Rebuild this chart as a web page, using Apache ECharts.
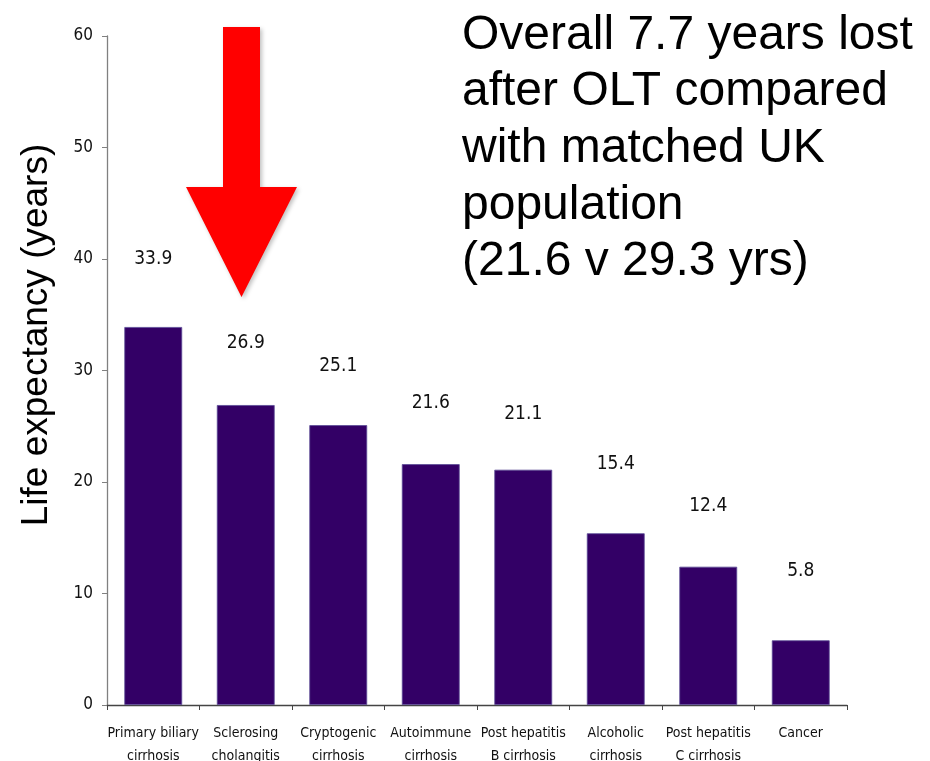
<!DOCTYPE html>
<html>
<head>
<meta charset="utf-8">
<style>
  html, body { margin: 0; padding: 0; background: #ffffff; }
  #chart { width: 930px; height: 761px; }
</style>
<script src="https://cdn.jsdelivr.net/npm/echarts@6/dist/echarts.min.js"></script>
</head>
<body>
<div id="chart"></div>
<script>
// Life expectancy after liver transplantation, by underlying disease
const categories = [
  'Primary biliary\ncirrhosis',
  'Sclerosing\ncholangitis',
  'Cryptogenic\ncirrhosis',
  'Autoimmune\ncirrhosis',
  'Post hepatitis\nB cirrhosis',
  'Alcoholic\ncirrhosis',
  'Post hepatitis\nC cirrhosis',
  'Cancer'
];
const lifeExpectancy = [33.9, 26.9, 25.1, 21.6, 21.1, 15.4, 12.4, 5.8];
const yTicks = { min: 0, max: 60, interval: 10 };

const yTitle = 'Life expectancy (years)';
const noteLines = [
  'Overall 7.7 years lost',
  'after OLT compared',
  'with matched UK',
  'population',
  '(21.6 v 29.3 yrs)'
];

// gap (px) between each bar top and its value label
const labelGap = [58, 53, 50, 52, 46, 60, 51, 60];

const narrow = '"Liberation Sans Narrow", "DejaVu Sans Condensed", "Liberation Sans", Arial, sans-serif';
const sans = '"Liberation Sans", Arial, Helvetica, sans-serif';

const chart = echarts.init(document.getElementById('chart'), null, { renderer: 'canvas' });

chart.setOption({
  animation: false,
  backgroundColor: '#ffffff',
  grid: {
    left: 107, right: 83, top: 36, bottom: 56,
    containLabel: false,
    outerBoundsMode: 'none'
  },
  xAxis: {
    type: 'category',
    data: categories,
    boundaryGap: true,
    axisLine: { show: true, lineStyle: { color: '#444444', width: 1.3 } },
    axisTick: { show: true, length: 5, alignWithLabel: false, lineStyle: { color: '#444444' } },
    axisLabel: {
      interval: 0,
      margin: 17,
      color: '#111111',
      fontFamily: narrow,
      fontSize: 14,
      lineHeight: 23
    }
  },
  yAxis: {
    type: 'value',
    min: yTicks.min,
    max: yTicks.max,
    interval: yTicks.interval,
    splitLine: { show: false },
    axisLine: { show: true, lineStyle: { color: '#808080', width: 1.3 } },
    axisTick: { show: true, length: 5, lineStyle: { color: '#808080' } },
    axisLabel: {
      margin: 14,
      color: '#111111',
      fontFamily: narrow,
      fontSize: 17
    }
  },
  series: [{
    type: 'bar',
    data: lifeExpectancy.map((v, i) => ({
      value: v,
      label: { distance: labelGap[i] }
    })),
    barWidth: '62.5%',
    itemStyle: { color: '#330066', borderColor: '#5a4a96', borderWidth: 0.8 },
    label: {
      show: true,
      position: 'top',
      color: '#111111',
      fontFamily: narrow,
      fontSize: 19,
      formatter: p => p.value.toFixed(1)
    }
  }],
  graphic: [
    {
      type: 'text',
      x: 37,
      y: 335,
      rotation: Math.PI / 2,
      style: {
        text: yTitle,
        font: '37px ' + sans,
        fill: '#000000',
        align: 'center',
        verticalAlign: 'middle'
      }
    },
    {
      type: 'text',
      x: 462,
      y: 7,
      style: {
        text: noteLines.join('\n'),
        font: '48px ' + sans,
        lineHeight: 56.7,
        fill: '#000000',
        align: 'left',
        verticalAlign: 'top'
      }
    },
    {
      type: 'polygon',
      shape: {
        points: [
          [223, 27], [260, 27], [260, 187], [297, 187],
          [241.5, 297], [186, 187], [223, 187]
        ]
      },
      style: {
        fill: '#ff0000',
        shadowBlur: 4,
        shadowOffsetX: 2,
        shadowOffsetY: 2,
        shadowColor: 'rgba(0,0,0,0.25)'
      }
    }
  ]
});
</script>
</body>
</html>
